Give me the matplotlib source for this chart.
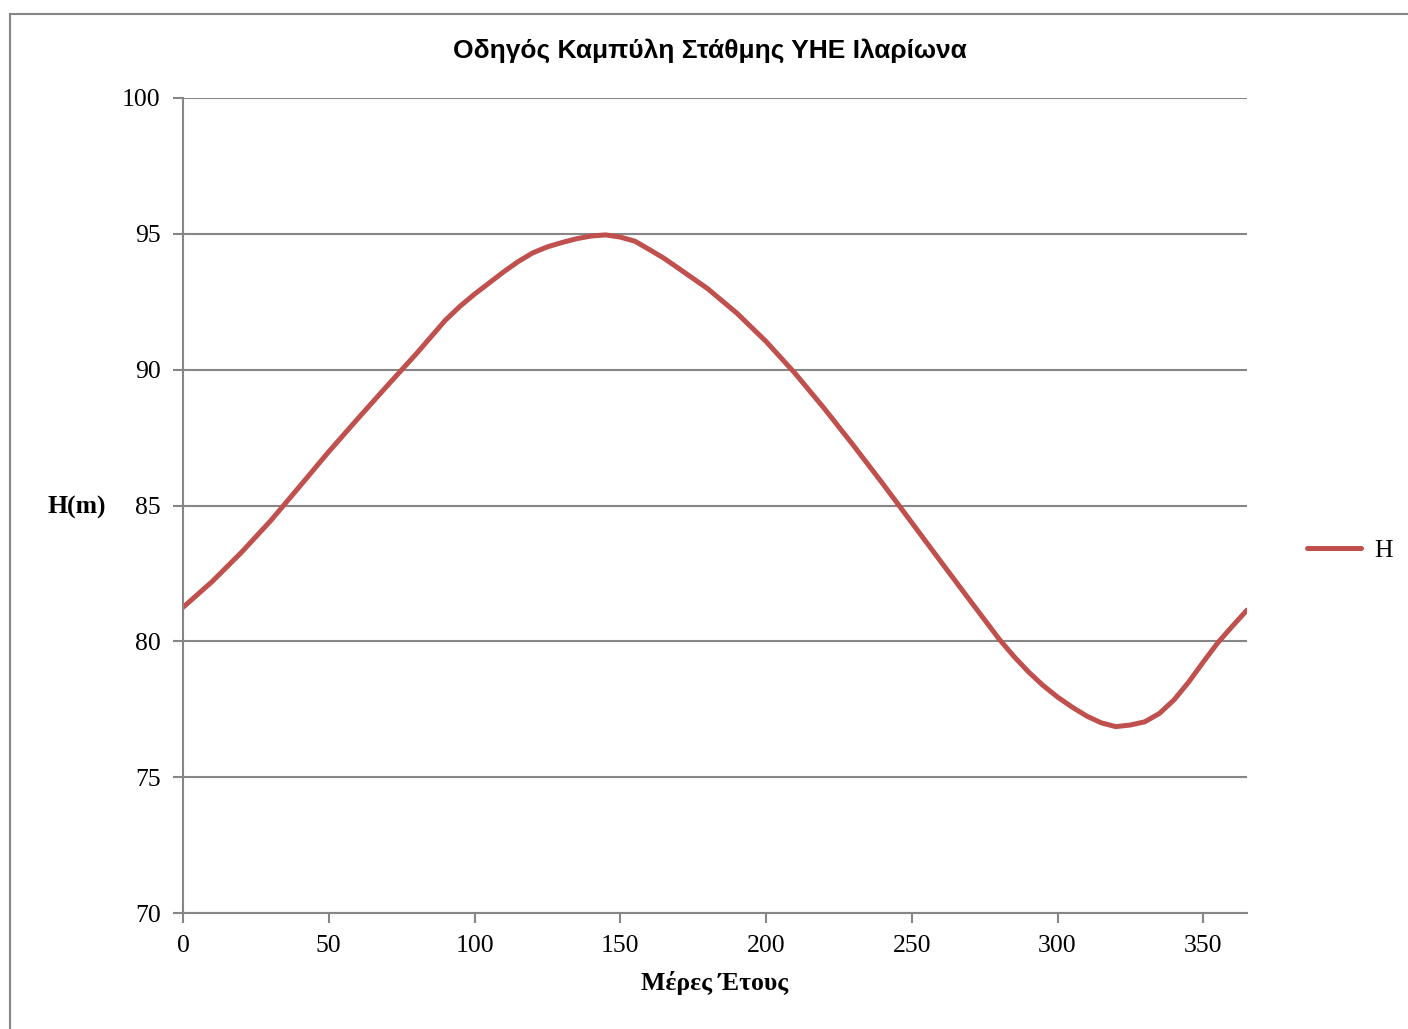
import matplotlib.pyplot as plt
from matplotlib.patches import Rectangle

# Day of year and reservoir level H (m)
days = [0, 10, 20, 30, 40, 50, 60, 70, 80, 85, 90, 95, 100, 110, 115, 120, 125,
        130, 135, 140, 145, 150, 155, 160, 165, 170, 180, 190, 200, 210, 220,
        230, 240, 250, 260, 270, 280, 285, 290, 295, 300, 305, 310, 315, 320,
        325, 330, 335, 340, 345, 350, 355, 360, 365]
level = [81.25, 82.2, 83.27, 84.43, 85.7, 86.98, 88.2, 89.4, 90.58, 91.2,
         91.82, 92.33, 92.78, 93.6, 93.98, 94.3, 94.52, 94.68, 94.82, 94.92,
         94.96, 94.88, 94.73, 94.42, 94.1, 93.73, 92.98, 92.08, 91.04, 89.86,
         88.57, 87.21, 85.81, 84.37, 82.93, 81.5, 80.08, 79.45, 78.88, 78.38,
         77.95, 77.58, 77.25, 77.0, 76.86, 76.92, 77.04, 77.35, 77.85, 78.5,
         79.24, 79.95, 80.56, 81.15]

xticks = [0, 50, 100, 150, 200, 250, 300, 350]
yticks = [70, 75, 80, 85, 90, 95, 100]

grid_col = '#868686'
serif = 'Liberation Serif'

fig = plt.figure(figsize=(14.08, 10.29), dpi=100)
fig.patches.append(Rectangle((10 / 1408, -0.05), 1.0, 1.05 - 14 / 1029, transform=fig.transFigure,
                             fill=False, edgecolor=grid_col, linewidth=1.5))
ax = fig.add_axes([183 / 1408, 1 - 913 / 1029, 1064 / 1408, 815 / 1029])

ax.plot(days, level, color='#C0504D', linewidth=3.6, solid_capstyle='round',
        solid_joinstyle='round', label='H')

ax.set_xlim(0, 365)
ax.set_ylim(70, 100)
ax.set_xticks(xticks)
ax.set_yticks(yticks)
ax.yaxis.grid(True, color=grid_col, linewidth=1.5)
ax.set_axisbelow(True)
for s in ['top', 'right']:
    ax.spines[s].set_visible(False)
for s in ['left', 'bottom']:
    ax.spines[s].set_color(grid_col)
    ax.spines[s].set_linewidth(1.5)
ax.tick_params(axis='both', colors=grid_col, length=7, width=1.5, labelsize=18.5,
               labelcolor='black', pad=9)
for lbl in ax.get_xticklabels() + ax.get_yticklabels():
    lbl.set_family(serif)

ax.set_xlabel('Μέρες Έτους', fontfamily=serif, fontweight='bold', fontsize=18.5, labelpad=10)
fig.text(77 / 1408, 1 - 507 / 1029, 'H(m)', ha='center', va='center',
         fontfamily=serif, fontweight='bold', fontsize=18.5)

fig.text(710 / 1408, 1 - 51 / 1029, 'Οδηγός Καμπύλη Στάθμης ΥΗΕ Ιλαρίωνα', ha='center',
         va='center', fontfamily='Liberation Sans', fontweight='bold', fontsize=19)

leg = ax.legend(loc='center left', bbox_to_anchor=(1.035, 0.445), frameon=False,
                handlelength=2.1, handletextpad=0.5,
                prop={'family': serif, 'size': 18.5})

fig.savefig('out.png', dpi=100)
